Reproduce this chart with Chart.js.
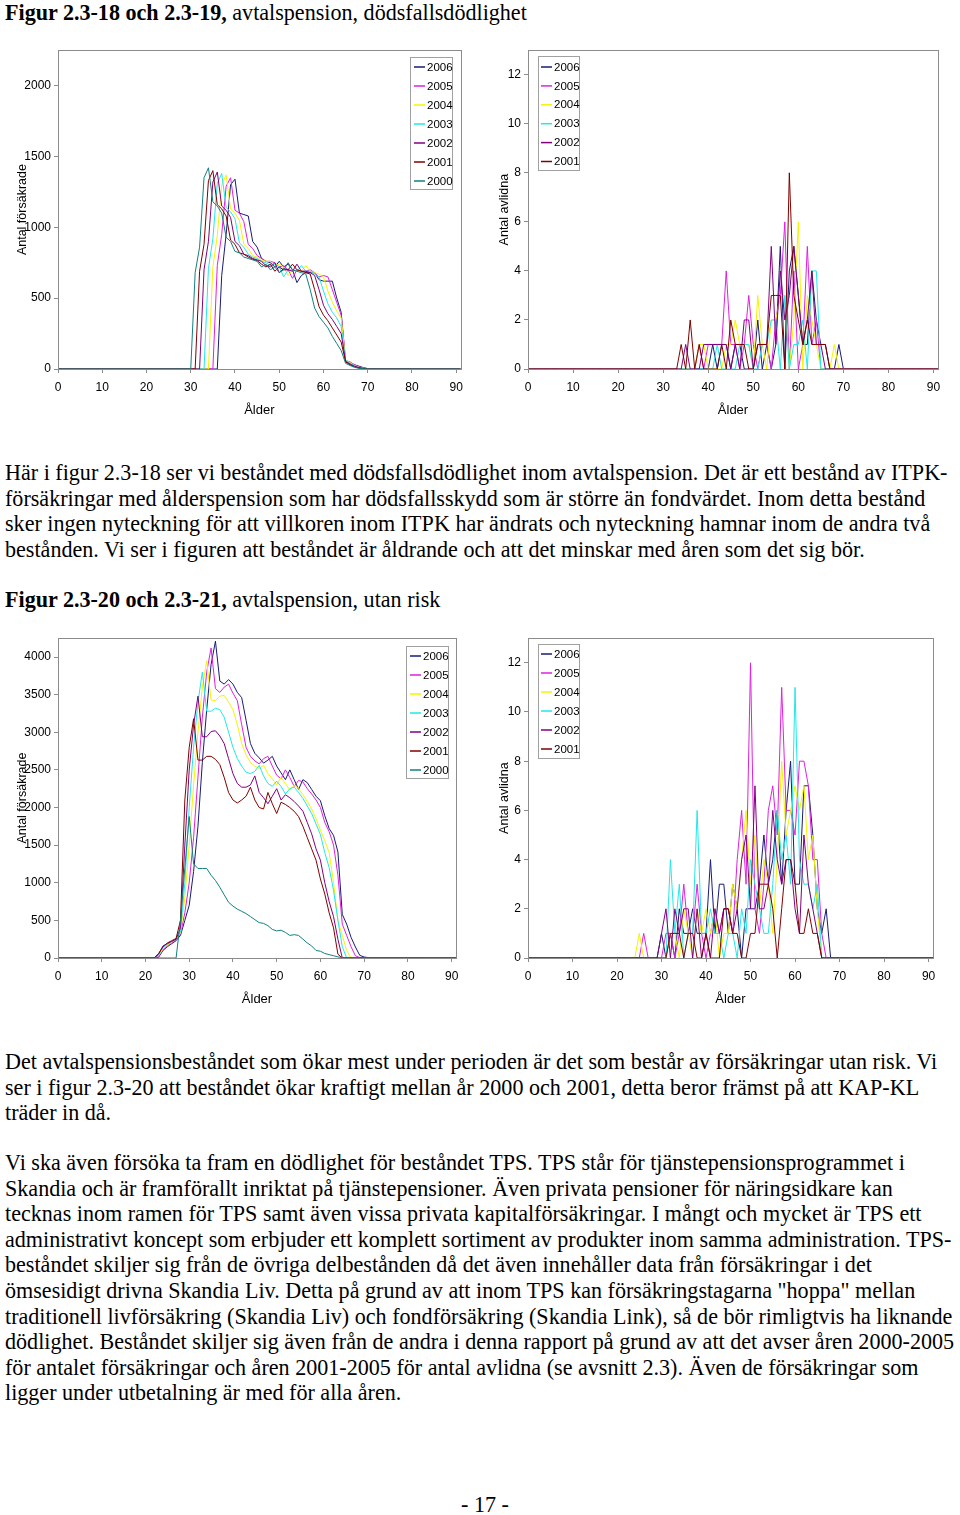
<!DOCTYPE html>
<html>
<head>
<meta charset="utf-8">
<script src="https://cdn.jsdelivr.net/npm/chart.js@4.4.1/dist/chart.umd.min.js"></script>
<style>
  html, body { margin:0; padding:0; background:#fff; }
  body { width:960px; height:1515px; position:relative; overflow:hidden;
         font-family:"Liberation Serif","Times New Roman",serif; font-size:22.1px; color:#000; }
  .t { position:absolute; left:5px; white-space:nowrap; line-height:25.6px; }
  .c { position:absolute; }
  b { font-weight:bold; }
</style>
</head>
<body>
<div class="t" style="top:0px"><b>Figur 2.3-18 och 2.3-19,</b> avtalspension, dödsfallsdödlighet</div>

<div class="c" style="left:0px;top:40px;width:470px;height:385px"><canvas id="c1"></canvas></div>
<div class="c" style="left:470px;top:40px;width:480px;height:385px"><canvas id="c2"></canvas></div>

<div class="t" style="top:460px">Här i figur 2.3-18 ser vi beståndet med dödsfallsdödlighet inom avtalspension. Det är ett bestånd av ITPK-<br>försäkringar med ålderspension som har dödsfallsskydd som är större än fondvärdet. Inom detta bestånd<br>sker ingen nyteckning för att villkoren inom ITPK har ändrats och nyteckning hamnar inom de andra två<br>bestånden. Vi ser i figuren att beståndet är åldrande och att det minskar med åren som det sig bör.</div>

<div class="t" style="top:587px"><b>Figur 2.3-20 och 2.3-21,</b> avtalspension, utan risk</div>

<div class="c" style="left:0px;top:628px;width:470px;height:385px"><canvas id="c3"></canvas></div>
<div class="c" style="left:470px;top:628px;width:480px;height:385px"><canvas id="c4"></canvas></div>

<div class="t" style="top:1049px">Det avtalspensionsbeståndet som ökar mest under perioden är det som består av försäkringar utan risk. Vi<br>ser i figur 2.3-20 att beståndet ökar kraftigt mellan år 2000 och 2001, detta beror främst på att KAP-KL<br>träder in då.</div>

<div class="t" style="top:1150px">Vi ska även försöka ta fram en dödlighet för beståndet TPS. TPS står för tjänstepensionsprogrammet i<br>Skandia och är framförallt inriktat på tjänstepensioner. Även privata pensioner för näringsidkare kan<br>tecknas inom ramen för TPS samt även vissa privata kapitalförsäkringar. I mångt och mycket är TPS ett<br>administrativt koncept som erbjuder ett komplett sortiment av produkter inom samma administration. TPS-<br>beståndet skiljer sig från de övriga delbestånden då det även innehåller data från försäkringar i det<br>ömsesidigt drivna Skandia Liv. Detta på grund av att inom TPS kan försäkringstagarna "hoppa" mellan<br>traditionell livförsäkring (Skandia Liv) och fondförsäkring (Skandia Link), så de bör rimligtvis ha liknande<br>dödlighet. Beståndet skiljer sig även från de andra i denna rapport på grund av att det avser åren 2000-2005<br>för antalet försäkringar och åren 2001-2005 för antal avlidna (se avsnitt 2.3). Även de försäkringar som<br>ligger under utbetalning är med för alla åren.</div>

<div class="t" style="top:1492px;left:461px">- 17 -</div>

<script>
// ---------- DATA ----------
const ageTicks = [0, 10, 20, 30, 40, 50, 60, 70, 80, 90];
const ageMax = 91;

const yTicksForsakrade18 = [0, 500, 1000, 1500, 2000];
const yTicksForsakrade20 = [0, 500, 1000, 1500, 2000, 2500, 3000, 3500, 4000];
const yTicksAvlidna = [0, 2, 4, 6, 8, 10, 12];

const years7 = ['2006', '2005', '2004', '2003', '2002', '2001', '2000'];
const years6 = ['2006', '2005', '2004', '2003', '2002', '2001'];

// Figur 2.3-18: antal försäkrade, dödsfallsdödlighet (values from age 30 to 71)
const f18Start = 30;
const f18_2006 = [0,0,0,0,0,0,0,660,950,1300, 1340,1100,1090,1080,900,860,780,760,750,720, 760,720,740,700,610,660,680,680,680,630, 620,620,620,500,400,50,40,30,20,10, 3,0];
const f18_2005 = [0,0,0,0,0,0,730,950,1290,1350, 1120,1100,1040,880,850,800,780,760,760,750, 720,730,700,640,700,690,690,700,680,650, 660,650,560,470,380,60,50,30,15,6, 0,0];
const f18_2004 = [0,0,0,0,0,720,940,1300,1370,1130, 1100,1050,880,850,800,790,770,760,760,730, 740,720,660,700,700,690,730,690,680,670, 650,550,470,410,360,60,45,25,12,5, 0,0];
const f18_2003 = [0,0,0,0,710,920,1310,1380,1140,1110, 1060,890,860,810,790,780,760,750,730,740, 720,650,700,700,690,730,690,690,670,650, 550,460,400,360,300,60,40,22,10,4, 0,0];
const f18_2002 = [0,0,0,700,900,1320,1390,1150,1120,1070, 900,870,810,800,780,770,760,730,720,750, 680,710,700,690,740,690,690,680,660,560, 450,390,350,300,250,55,35,20,10,4, 0,0];
const f18_2001 = [0,0,690,880,1330,1400,1160,1130,1080,910, 880,820,810,790,775,765,740,720,740,690, 720,700,700,740,700,690,680,670,560,440, 380,340,290,240,190,50,30,15,7,3, 0,0];
const f18_2000 = [0,680,860,1350,1420,1180,1150,1100,930,900, 830,820,790,780,770,760,720,740,700,720, 680,700,750,700,690,680,670,560,430,370, 330,290,230,180,130,40,25,12,5,2, 0,0];

// Figur 2.3-19: antal avlidna, dödsfallsdödlighet (values from age 33 to 70)
const a19Start = 33;
const a19_2006 = [0,0,0,0,0,0,0,0,1,0, 1,1,0,1,1,0,0,0,2,0, 1,0,1,5,0,4,5,3,1,1, 4,2,1,1,0,0,1,0];
const a19_2005 = [0,0,0,0,0,1,0,1,1,1, 1,4,1,1,0,1,3,1,0,1, 1,0,2,3,6,0,4,0,1,5, 1,2,0,0,0,0,0,0];
const a19_2004 = [0,0,0,0,0,1,1,0,0,0, 0,1,1,2,1,1,1,0,3,1, 0,2,2,3,3,0,2,6,0,3, 2,1,0,0,0,1,0,0];
const a19_2003 = [0,0,0,0,0,0,0,0,0,1, 0,0,0,0,1,1,1,0,0,1, 1,2,2,0,3,0,1,1,2,0, 4,4,0,0,0,0,0,0];
const a19_2002 = [0,0,1,0,0,0,1,1,1,1, 1,1,0,1,0,2,2,0,1,1, 1,5,1,4,2,3,5,3,1,2, 4,1,1,0,0,0,0,0];
const a19_2001 = [0,1,0,2,0,1,0,0,0,0, 1,0,2,1,1,1,0,0,1,1, 1,3,3,3,0,8,3,2,1,2, 1,1,1,1,0,0,0,0];

// Figur 2.3-20: antal försäkrade, utan risk (values from age 21 to 72)
const f20Start = 21;
const f20_2006 = [0,0,10,100,150,190,230,300,500,700, 1150,1750,2600,3300,3900,4210,3680,3640,3700,3640, 3530,3460,3160,2850,2720,2660,2590,2630,2680,2550, 2460,2370,2500,2370,2240,2370,2330,2240,2150,2090, 1890,1720,1630,1410,580,450,275,146,35,13, 5,0];
const f20_2005 = [0,0,20,110,160,200,240,320,600,1000, 1600,2400,3200,3800,4120,3580,3530,3600,3640,3520, 3420,3100,2800,2680,2620,2580,2650,2680,2550,2430, 2380,2500,2400,2280,2360,2340,2250,2180,2100,2000, 1800,1680,1500,1100,450,300,150,30,5,0, 0,0];
const f20_2004 = [0,0,30,120,170,210,250,330,800,1500, 2300,3000,3600,3950,3430,3420,3480,3490,3400,3300, 3100,2850,2700,2600,2550,2520,2560,2450,2380,2300, 2400,2320,2230,2300,2250,2170,2080,1980,1850,1700, 1560,1400,1000,500,300,100,0,0,0,0, 0,0];
const f20_2003 = [0,0,40,140,180,220,250,350,1000,2000, 2800,3400,3800,3280,3280,3320,3300,3200,3000,2800, 2650,2550,2470,2450,2480,2560,2420,2320,2280,2350, 2280,2180,2250,2270,2200,2120,2020,1920,1780,1640, 1400,1200,900,500,150,0,0,0,0,0, 0,0];
const f20_2002 = [0,0,50,160,190,220,250,400,1500,2500, 3100,3480,2940,2940,3010,3020,2950,2850,2650,2450, 2320,2270,2270,2300,2420,2200,2130,2050,2150,2250, 2100,2170,2130,2080,2020,1950,1800,1650,1450,1300, 1000,750,550,250,0,0,0,0,0,0, 0,0];
const f20_2001 = [0,0,60,150,200,230,260,500,2100,2800, 3180,2630,2630,2680,2680,2640,2570,2400,2200,2100, 2060,2100,2150,2270,2100,2000,1980,2200,2050,1920, 2070,2040,2000,1950,1880,1750,1600,1450,1300,1050, 850,600,400,50,0,0,0,0,0,0, 0,0];
const f20_2000 = [0,0,0,0,0,0,0,500,1200,1880, 1250,1190,1190,1190,1100,1030,940,840,740,690, 650,620,590,550,510,470,460,430,380,360, 370,340,300,310,300,250,200,160,100,90, 60,45,30,15,5,3,0,0,0,0, 0,0];

// Figur 2.3-21: antal avlidna, utan risk (values from age 24 to 70)
const a21Start = 24;
const a21_2006 = [0,0,0,0,0,0,1,0,1,0, 2,1,1,2,1,1,1,4,1,3, 3,1,3,2,0,2,2,2,3,5, 3,4,6,3,6,8,3,3,7,7, 5,2,1,2,0,0,0];
const a21_2005 = [0,0,1,0,0,0,0,1,1,0, 1,3,1,1,3,1,0,1,2,1, 2,2,1,4,6,3,12,2,1,3, 6,7,5,11,6,6,5,8,8,7, 4,4,1,0,0,0,0];
const a21_2004 = [0,1,0,0,0,0,0,0,1,1, 0,2,1,0,2,1,2,1,2,0, 1,1,3,2,4,6,3,5,2,4, 3,1,4,8,5,6,7,6,7,4, 5,2,0,0,0,0,0];
const a21_2003 = [0,0,0,0,0,0,0,0,4,1, 3,0,1,1,6,1,1,2,1,1, 0,1,1,0,2,1,4,3,2,1, 1,3,6,4,5,3,11,4,3,3, 2,3,0,0,0,0,0];
const a21_2002 = [0,0,0,0,0,0,1,2,0,2, 1,2,2,0,2,0,1,0,2,1, 2,2,1,2,4,5,2,7,2,2, 3,6,4,3,4,4,2,1,5,3, 2,1,0,0,0,0,0];
const a21_2001 = [0,0,0,0,0,0,0,0,1,1, 1,0,1,1,0,0,1,0,0,0, 2,2,1,1,0,0,1,1,3,3, 3,2,0,2,4,4,3,1,1,2, 1,1,0,0,0,0,0];

// ---------- STYLE ----------
const yearColors = {
  '2006': '#1a1a78', '2005': '#e020e0', '2004': '#f4f400', '2003': '#22e8e8',
  '2002': '#800080', '2001': '#800000', '2000': '#108080'
};
const FONT = "'Liberation Sans Narrow','Arial Narrow','Liberation Sans',Arial,sans-serif";
Chart.defaults.font.family = FONT;
Chart.defaults.color = '#000';

function toPoints(start, values) {
  const pts = [];
  for (let a = 0; a <= ageMax; a++) {
    const i = a - start;
    pts.push({ x: a, y: (i >= 0 && i < values.length) ? values[i] : 0 });
  }
  return pts;
}

const plotBorder = {
  id: 'plotBorder',
  afterDatasetsDraw(chart) {
    const a = chart.chartArea, ctx = chart.ctx;
    ctx.save();
    ctx.strokeStyle = '#8c8c8c'; ctx.lineWidth = 1;
    ctx.strokeRect(Math.round(a.left) + 0.5, Math.round(a.top) + 0.5,
                   Math.round(a.right - a.left), Math.round(a.bottom - a.top));
    ctx.restore();
  }
};

const boxLegend = {
  id: 'boxLegend',
  afterDraw(chart, args, o) {
    const ctx = chart.ctx;
    ctx.save();
    ctx.fillStyle = '#fff';
    ctx.fillRect(o.x, o.y, o.w, o.h);
    ctx.strokeStyle = '#a0a0a0'; ctx.lineWidth = 1;
    ctx.strokeRect(o.x + 0.5, o.y + 0.5, o.w, o.h);
    ctx.font = '11.5px ' + FONT;
    ctx.textBaseline = 'middle'; ctx.textAlign = 'left';
    chart.data.datasets.forEach((ds, i) => {
      const y = o.y + o.first + i * o.step;
      ctx.strokeStyle = ds.borderColor; ctx.lineWidth = 1.5;
      ctx.beginPath(); ctx.moveTo(o.x + o.l1, y); ctx.lineTo(o.x + o.l2, y); ctx.stroke();
      ctx.fillStyle = '#000';
      ctx.fillText(ds.label, o.x + o.tx, y + 0.5);
    });
    ctx.restore();
  }
};

function makeChart(id, cfg) {
  const datasets = cfg.years.map((yr, i) => ({
    label: yr,
    data: toPoints(cfg.start, cfg.series[i]),
    borderColor: yearColors[yr],
    borderWidth: 1,
    pointRadius: 0,
    tension: 0,
    fill: false,
    order: cfg.years.length - 1 - i
  }));
  new Chart(document.getElementById(id), {
    type: 'line',
    data: { datasets },
    plugins: [plotBorder, boxLegend],
    options: {
      responsive: true, maintainAspectRatio: false, animation: false,
      layout: { padding: { top: 5, right: cfg.padRight, left: 0, bottom: 0 } },
      plugins: {
        legend: { display: false }, tooltip: { enabled: false },
        boxLegend: cfg.legend
      },
      scales: {
        x: {
          type: 'linear', min: 0, max: ageMax,
          afterBuildTicks: s => { s.ticks = ageTicks.map(v => ({ value: v })); },
          afterFit: s => { s.height = cfg.xHeight; },
          ticks: { font: { size: 12 }, padding: 7, maxRotation: 0, autoSkip: false, callback: v => String(v) },
          grid: { display: true, drawOnChartArea: false, drawTicks: true, tickLength: 4, color: '#8c8c8c' },
          border: { display: true, color: '#8c8c8c' },
          title: { display: true, text: 'Ålder', font: { size: 13 }, padding: { top: 0, bottom: cfg.xTitlePad } }
        },
        y: {
          type: 'linear', min: 0, max: cfg.yMax,
          afterBuildTicks: s => { s.ticks = cfg.yTicks.map(v => ({ value: v })); },
          afterFit: s => { s.width = 58; },
          ticks: { font: { size: 12 }, padding: 3, callback: v => String(v) },
          grid: { display: true, drawOnChartArea: false, drawTicks: true, tickLength: 4, color: '#8c8c8c' },
          border: { display: true, color: '#8c8c8c' },
          title: { display: true, text: cfg.yTitle, font: { size: 12.5 }, padding: { top: cfg.yTitlePad, bottom: 0 } }
        }
      }
    }
  });
}

makeChart('c1', {
  years: years7, start: f18Start,
  series: [f18_2006, f18_2005, f18_2004, f18_2003, f18_2002, f18_2001, f18_2000],
  yMax: 2250, yTicks: yTicksForsakrade18, yTitle: 'Antal försäkrade', yTitlePad: 15,
  padRight: 9, xHeight: 56, xTitlePad: 7,
  legend: { x: 410, y: 17, w: 42, h: 132, first: 10, step: 19, l1: 4, l2: 15, tx: 17 }
});
makeChart('c2', {
  years: years6, start: a19Start,
  series: [a19_2006, a19_2005, a19_2004, a19_2003, a19_2002, a19_2001],
  yMax: 13, yTicks: yTicksAvlidna, yTitle: 'Antal avlidna', yTitlePad: 27,
  padRight: 12, xHeight: 56, xTitlePad: 7,
  legend: { x: 68, y: 16, w: 41, h: 114, first: 11, step: 18.9, l1: 3, l2: 14, tx: 16 }
});
makeChart('c3', {
  years: years7, start: f20Start,
  series: [f20_2006, f20_2005, f20_2004, f20_2003, f20_2002, f20_2001, f20_2000],
  yMax: 4250, yTicks: yTicksForsakrade20, yTitle: 'Antal försäkrade', yTitlePad: 15,
  padRight: 14, xHeight: 55, xTitlePad: 6,
  legend: { x: 406, y: 18, w: 42, h: 132, first: 10, step: 19, l1: 4, l2: 15, tx: 17 }
});
makeChart('c4', {
  years: years6, start: a21Start,
  series: [a21_2006, a21_2005, a21_2004, a21_2003, a21_2002, a21_2001],
  yMax: 13, yTicks: yTicksAvlidna, yTitle: 'Antal avlidna', yTitlePad: 27,
  padRight: 17, xHeight: 55, xTitlePad: 6,
  legend: { x: 68, y: 16, w: 41, h: 114, first: 10, step: 19, l1: 3, l2: 14, tx: 16 }
});
</script>
</body>
</html>
